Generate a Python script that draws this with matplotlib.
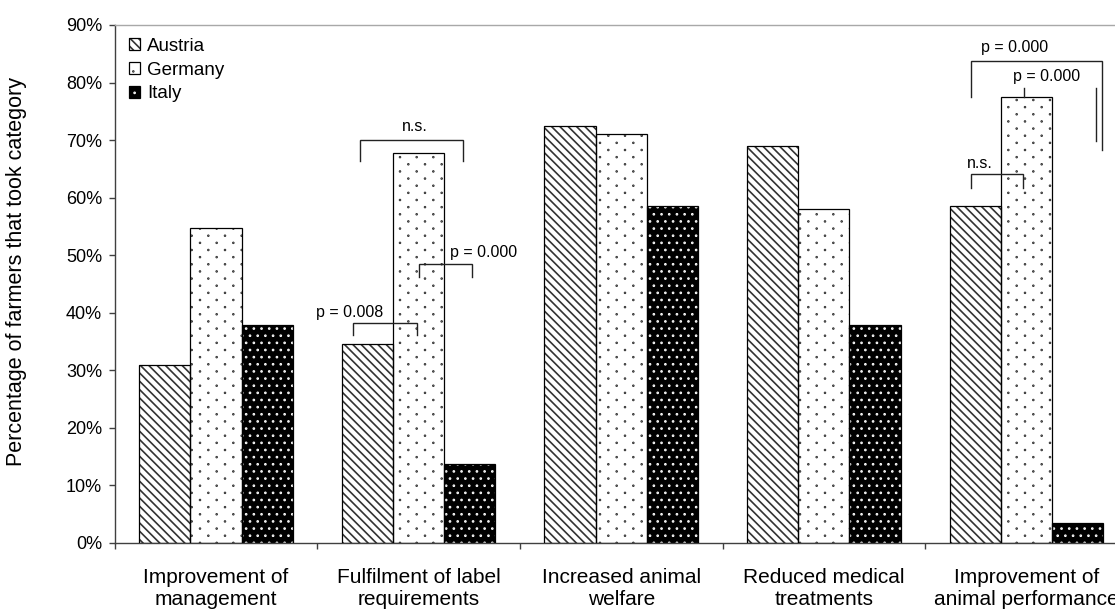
import matplotlib
matplotlib.use("Agg")
import matplotlib.pyplot as plt
import matplotlib.hatch as mhatch
from matplotlib.path import Path
from matplotlib.patches import Patch
from matplotlib.legend_handler import HandlerTuple
import numpy as np

plt.rcParams['font.family'] = ['Liberation Sans', 'DejaVu Sans']
plt.rcParams['hatch.linewidth'] = 1.2


class StaggeredDots(mhatch.HatchPatternBase):
    """Dot hatch on a staggered grid: '.' sparse, '..' dense."""
    # (columns, rows, dot radius) per hatch tile
    layouts = {1: (6, 14, 0.004), 2: (13, 14, 0.005)}

    def __init__(self, hatch, density):
        n = hatch.count('.')
        self.centers = []
        self.radius = 0.0
        if n:
            cols, rows, self.radius = self.layouts[min(n, 2)]
            for r in range(rows + 1):
                if r % 2 == 0:
                    xs = np.arange(cols + 1) / cols
                else:
                    xs = (np.arange(cols) + 0.5) / cols
                self.centers.extend((cx, r / rows) for cx in xs)
        circle = Path.unit_circle()
        self.shape_vertices = circle.vertices
        self.shape_codes = circle.codes
        self.num_vertices = len(self.centers) * len(self.shape_vertices)

    def set_vertices_and_codes(self, vertices, codes):
        nv = len(self.shape_vertices)
        for i, (cx, cy) in enumerate(self.centers):
            vertices[i * nv:(i + 1) * nv] = (self.shape_vertices * self.radius
                                             + (cx, cy))
            codes[i * nv:(i + 1) * nv] = self.shape_codes


mhatch._hatch_types = [StaggeredDots if t is mhatch.SmallFilledCircles else t
                       for t in mhatch._hatch_types]

# ---- data -------------------------------------------------------------
categories = ["Improvement of\nmanagement",
              "Fulfilment of label\nrequirements",
              "Increased animal\nwelfare",
              "Reduced medical\ntreatments",
              "Improvement of\nanimal performance"]
countries = ["Austria", "Germany", "Italy"]
austria = [31.0, 34.5, 72.4, 69.0, 58.6]
germany = [54.8, 67.7, 71.0, 58.1, 77.4]
italy = [37.9, 13.8, 58.6, 37.9, 3.4]
y_ticks = [0, 10, 20, 30, 40, 50, 60, 70, 80, 90]
y_tick_labels = [f"{v}%" for v in y_ticks]

# significance brackets: (x_left, x_right, y_top, y_left_end, y_right_end)
brackets = [
    (0.678, 0.994, 38.3, 36.2, 36.2),
    (1.002, 1.263, 48.5, 46.2, 46.2),
    (0.713, 1.220, 70.0, 66.4, 66.4),
    (3.727, 4.374, 83.8, 77.4, 68.3),
    (3.727, 3.984, 64.1, 61.6, 61.6),
]
# loose vertical strokes: (x, y_from, y_to)
strokes = [
    (3.987, 79.0, 77.4),
    (4.344, 79.0, 69.9),
]
# bracket labels: (x, y, text)
bracket_labels = [
    (0.657, 40.1, "p = 0.008"),
    (1.319, 50.4, "p = 0.000"),
    (0.983, 72.3, "n.s."),
    (3.941, 86.0, "p = 0.000"),
    (4.097, 81.0, "p = 0.000"),
    (3.768, 66.0, "n.s."),
]

# ---- styles -------------------------------------------------------------
series = [austria, germany, italy]
faces = ["white", "white", "black"]
hatch_colors = ["#333333", "#222222", "white"]
hatches = ["\\\\\\\\", ".", ".."]

fig = plt.figure(figsize=(11.15, 6.15), dpi=100)
ax = fig.add_axes([0.1029, 0.1171, 0.9085, 0.8423])

x = np.arange(len(categories))
width = 0.2525
offsets = [-width, 0.0, width]

for vals, off, fc, hc, h in zip(series, offsets, faces, hatch_colors, hatches):
    ax.bar(x + off, vals, width, color=fc, edgecolor=hc, hatch=h,
           linewidth=0, zorder=2)
    ax.bar(x + off, vals, width, fill=False, edgecolor="black",
           linewidth=0.9, zorder=3)

for xl, xr, yt, yl, yr in brackets:
    ax.plot([xl, xl, xr, xr], [yl, yt, yt, yr], color="#222222",
            linewidth=1.0, zorder=4, solid_joinstyle="miter")
for xs, y0, y1 in strokes:
    ax.plot([xs, xs], [y0, y1], color="#222222", linewidth=1.0, zorder=4)
for tx, ty, s in bracket_labels:
    ax.text(tx, ty, s, ha="center", va="center", fontsize=11.5, zorder=5)

# ---- axes -------------------------------------------------------------
ax.set_xlim(-0.5, len(categories) - 0.5)
ax.set_ylim(0, 90)
ax.set_yticks(y_ticks)
ax.set_yticklabels(y_tick_labels, fontsize=13)
ax.tick_params(axis="y", direction="out", length=4, width=1,
               color="#404040", pad=5)

ax.set_xticks(np.arange(len(categories) + 1) - 0.5)
ax.set_xticklabels([])
ax.tick_params(axis="x", which="major", direction="out", length=4.5,
               width=1, color="#404040")
ax.set_xticks(x, minor=True)
ax.set_xticklabels(categories, minor=True, fontsize=15)
ax.tick_params(axis="x", which="minor", length=0, pad=18)

for side in ["left", "bottom"]:
    ax.spines[side].set_color("#404040")
    ax.spines[side].set_linewidth(1.0)
ax.spines["top"].set_color("#a8a8a8")
ax.spines["top"].set_linewidth(1.0)
ax.spines["right"].set_visible(False)

ax.set_ylabel("Percentage of farmers that took category", fontsize=15.5)
ax.yaxis.set_label_coords(-0.087, 0.525)

handles = []
for fc, hc, h in zip(faces, hatch_colors, hatches):
    handles.append((Patch(facecolor=fc, edgecolor=hc, hatch=h, linewidth=0),
                    Patch(fill=False, edgecolor="black", linewidth=0.9)))
ax.legend(handles, countries, handler_map={tuple: HandlerTuple(ndivide=1)},
          loc="upper left", bbox_to_anchor=(129 / 1115, 1 - 38 / 615),
          bbox_transform=fig.transFigure, frameon=False, fontsize=13.5,
          handlelength=0.6, handleheight=0.6, handletextpad=0.35,
          labelspacing=0.36, borderpad=0, borderaxespad=0)

fig.savefig("out.png", dpi=100)
